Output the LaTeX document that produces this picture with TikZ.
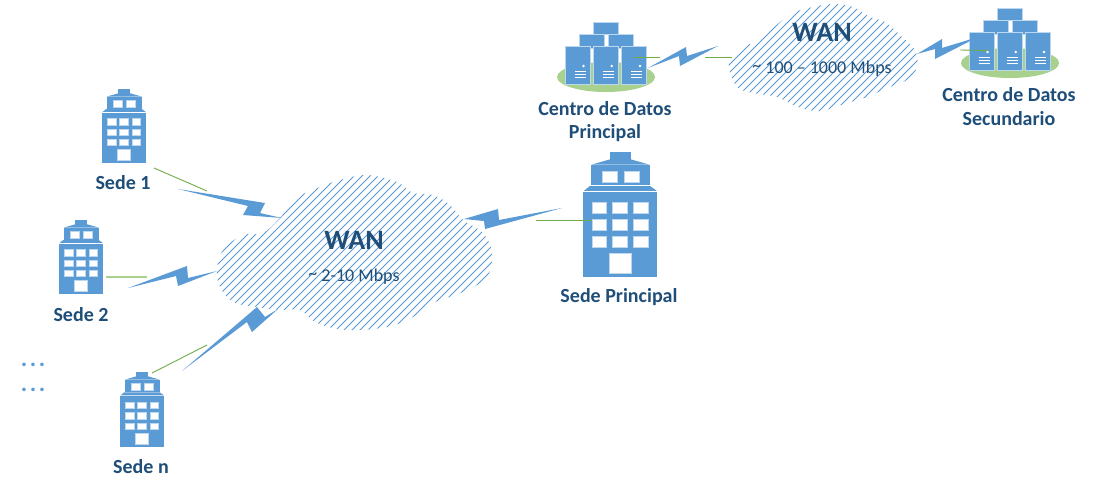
\documentclass[tikz,border=0pt]{standalone}
\usepackage{fontspec}
\setmainfont{Carlito}
\definecolor{bluefill}{HTML}{5B9BD5}
\definecolor{edgeblue}{HTML}{BDD7EE}
\definecolor{navytext}{HTML}{1F4E79}
\definecolor{linkgreen}{HTML}{70AD47}
\definecolor{padgreen}{HTML}{A9D18E}
\tikzset{
  bolt/.style={fill=bluefill,draw=none},
  hatchline/.style={draw=bluefill,line width=0.9pt},
  link/.style={draw=linkgreen,line width=0.9pt},
  sitelabel/.style={text=navytext,font=\fontsize{20}{22}\selectfont\bfseries,inner sep=0pt,align=center},
  wanlabel/.style={text=navytext,font=\fontsize{28}{30}\selectfont\bfseries,inner sep=0pt},
  ratelabel/.style={text=navytext,font=\fontsize{18}{20}\selectfont,inner sep=0pt},
  dotslabel/.style={text=bluefill,font=\fontsize{24}{26}\selectfont\bfseries,inner sep=0pt,anchor=base},
  server/.style={fill=bluefill,draw=edgeblue,line width=0.7pt},
  windowpane/.style={fill=white,draw=edgeblue,line width=0.4pt},
}
% building: box drawn in a 220 x 374 local grid, placed at (#1,#2) with size #3 x #4
\newcommand{\bldg}[4]{%
\begin{scope}[shift={(#1,#2)},x={(#3/220*1pt,0pt)},y={(0pt,-#4/374*1pt)}]
  \fill[bluefill] (80,0) rectangle (142,24);
  \fill[bluefill] (25,38) -- (80,22) -- (142,22) -- (198,38) -- cycle;
  \fill[bluefill] (25,39) rectangle (198,99);
  \fill[bluefill] (3,116) -- (20,102) -- (200,102) -- (219,116) -- cycle;
  \fill[bluefill] (0,119) rectangle (220,374);
  \foreach \wx in {58,123} {\path[windowpane] (\wx,57) rectangle ++(43,33);}
  \foreach \wy in {149,201,253} {\foreach \wx in {27,88,150} {\path[windowpane] (\wx,\wy) rectangle ++(43,33);}}
  \path[windowpane] (78,304) rectangle (143,362);
\end{scope}}
% server group: origin at top-left of the first front server
\newcommand{\rack}[2]{%
\begin{scope}[shift={(#1,#2)}]
  \fill[padgreen] (41,31) ellipse [x radius=49,y radius=15];
  \path[server] (28,-24) rectangle ++(25,12);
  \path[server] (14,-12) rectangle ++(25,14);
  \path[server] (43,-12) rectangle ++(25,14);
  \foreach \sx in {0,28.2,56.5} {
    \path[server] (\sx,0) rectangle ++(25,38);
    \fill[white] (\sx+18.5,20) circle (1.3);
    \foreach \sy in {25.5,28.5,31.5} {\draw[white,line width=0.7pt] (\sx+9.5,\sy) -- (\sx+20.5,\sy);}
  }
\end{scope}}
\begin{document}
\begin{tikzpicture}[x=1pt,y=-1pt]
\useasboundingbox (0,0) rectangle (1094,491);
\fill[white] (0,0) rectangle (1094,491);

% clouds
\begin{scope}
  \clip plot[smooth cycle,tension=0.6] coordinates {(217,270)(223,250)(243,235)(263,233)(280,218)(297,198)(320,187)(340,180)(367,175)(397,182)(413,193)(433,195)(450,205)(463,220)(483,233)(492,253)(487,277)(463,292)(433,303)(413,317)(387,327)(347,330)(317,323)(300,310)(280,310)(257,307)(233,302)(220,287)};
  \foreach \k in {0,...,60} {\draw[hatchline] (200+\k*8,170) -- (200+\k*8-170,340);}
\end{scope}
\begin{scope}
  \clip plot[smooth cycle,tension=0.6] coordinates {(729,68)(732,57)(747,45)(757,43)(773,28)(793,13)(813,7)(833,4)(853,7)(870,17)(885,22)(900,35)(915,50)(917,67)(907,80)(887,88)(867,97)(847,103)(820,111)(798,107)(777,97)(753,93)(737,87)};
  \foreach \k in {0,...,40} {\draw[hatchline] (730+\k*8,0) -- (730+\k*8-130,130);}
\end{scope}

% buildings and server groups
\bldg{102}{89}{44}{74}
\bldg{59}{220}{44}{74}
\bldg{120}{372}{44}{75}
\bldg{583}{152}{74}{125}
\rack{565}{46}
\rack{969}{32}

% lightning bolts
\path[bolt] (178,189) -- (265,203) -- (260,213) -- (282,218) -- (243,215) -- (248,206) -- cycle;
\path[bolt] (128,288) -- (187,266) -- (188,278) -- (217,271) -- (178,286) -- (176,276) -- cycle;
\path[bolt] (182,371) -- (257,307) -- (265,317) -- (278,309) -- (252,332) -- (247,322) -- cycle;
\path[bolt] (464,219) -- (498,209) -- (499,220) -- (562,208) -- (485,229) -- (484,221) -- cycle;
\path[bolt] (648,68) -- (686,47) -- (687,56) -- (718,46) -- (680,66) -- (679,56) -- cycle;
\path[bolt] (917,54) -- (942,39) -- (942,48) -- (978,37) -- (935,59) -- (935,49) -- cycle;

% anchors of the green links
\coordinate (s1a) at (154,168); \coordinate (s1b) at (207,191);
\coordinate (s2a) at (106,277); \coordinate (s2b) at (147,277);
\coordinate (sna) at (152,373); \coordinate (snb) at (207,345);
\coordinate (spa) at (536,220); \coordinate (spb) at (592,220);
\coordinate (d1a) at (634,57);  \coordinate (d1b) at (660,57);
\coordinate (d1c) at (705,57);  \coordinate (d1d) at (732,57);
\coordinate (d2a) at (960,50);  \coordinate (d2b) at (988,50.5);
\draw[link] (s1a) -- (s1b);
\draw[link,line width=1.6pt,draw=padgreen] (s2a) -- (s2b);
\draw[link] (sna) -- (snb);
\draw[link] (spa) -- (spb);
\draw[link] (d1a) -- (d1b);
\draw[link] (d1c) -- (d1d);
\draw[link] (d2a) -- (d2b);

% labels
\node[sitelabel] (sede1) at (123,183) {Sede 1};
\node[sitelabel] (sede2) at (81,315) {Sede 2};
\node[sitelabel] (seden) at (141,467) {Sede n};
\node[sitelabel] (sedep) at (619,297.5) {Sede Principal};
\node[sitelabel] (cdp1) at (605,109) {Centro de Datos};
\node[sitelabel] (cdp2) at (605,133) {Principal};
\node[sitelabel] (cds1) at (1009,95) {Centro de Datos};
\node[sitelabel] (cds2) at (1009,119) {Secundario};
\node[wanlabel] (wan1) at (354,240) {WAN};
\node[ratelabel] (rate1) at (354,277) {\raisebox{2pt}{\textasciitilde}{} 2-10 Mbps};
\node[wanlabel] (wan2) at (822,32) {WAN};
\node[ratelabel] (rate2) at (822,69) {\raisebox{2pt}{\textasciitilde}{} 100 – 1000 Mbps};
\node[dotslabel] (dots1) at (33,366) {.\kern2.6pt.\kern2.6pt.};
\node[dotslabel] (dots2) at (33,391) {.\kern2.6pt.\kern2.6pt.};
\end{tikzpicture}
\end{document}
